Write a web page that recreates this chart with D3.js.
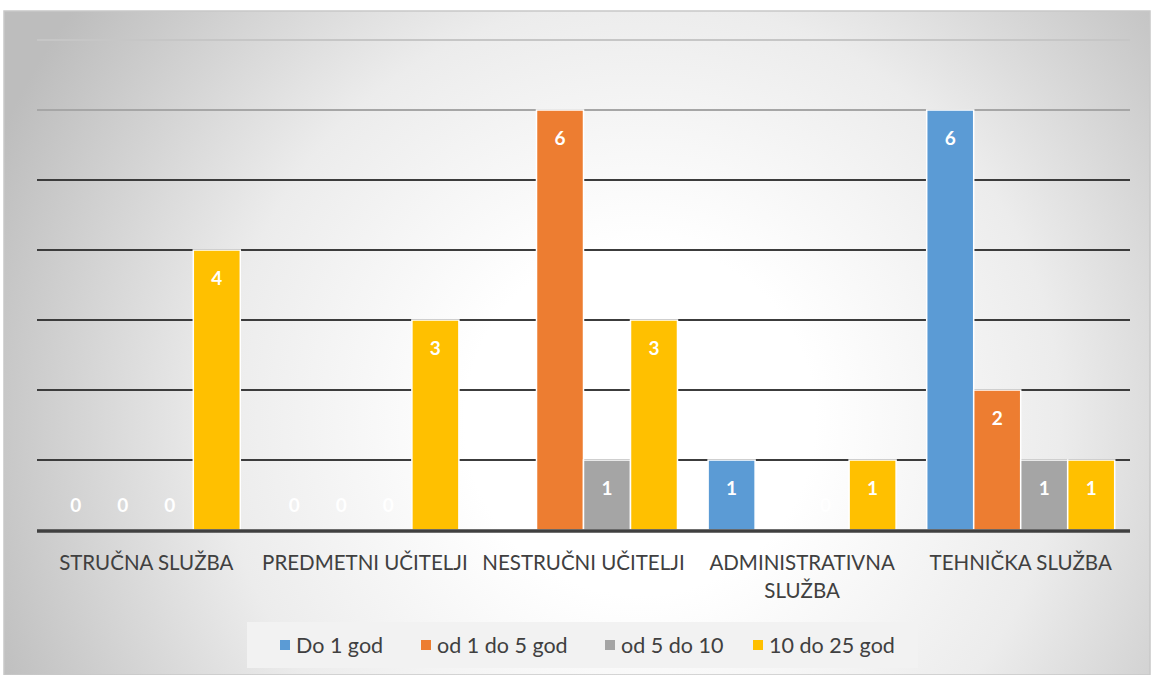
<!DOCTYPE html>
<html>
<head>
<meta charset="utf-8">
<script src="https://cdn.jsdelivr.net/npm/d3@7"></script>
<style>
  body { margin: 0; background: #fff; }
  svg { display: block; font-family: Lato, "Open Sans", sans-serif; }
</style>
</head>
<body>
<div id="root"></div>
<script>
// categories and series
var categories = ["STRUČNA SLUŽBA", "PREDMETNI UČITELJI", "NESTRUČNI UČITELJI", "ADMINISTRATIVNA SLUŽBA", "TEHNIČKA SLUŽBA"];
var seriesNames = ["Do 1 god", "od 1 do 5 god", "od 5 do 10", "10 do 25 god"];
var seriesColors = ["#5b9bd5", "#ed7d31", "#a5a5a5", "#ffc000"];
var doDo1 = [0, 0, 0, 1, 6];
var od1do5 = [0, 0, 6, 0, 2];
var od5do10 = [0, 0, 1, 0, 1];
var od10do25 = [4, 3, 3, 1, 1];
var yTicks = [0, 1, 2, 3, 4, 5, 6, 7];

var values = [doDo1, od1do5, od5do10, od10do25];

var w = 1152, h = 675;
var plot = { left: 37, right: 1130, top: 40, bottom: 530 };

var svg = d3.select("#root").append("svg").attr("width", w).attr("height", h);

// background gradient, whitest just above the baseline
var defs = svg.append("defs");
var grad = defs.append("radialGradient").attr("id", "bg")
  .attr("gradientUnits", "userSpaceOnUse")
  .attr("cx", 640).attr("cy", 420).attr("r", 700);
grad.append("stop").attr("offset", "0%").attr("stop-color", "#ffffff");
grad.append("stop").attr("offset", "25%").attr("stop-color", "#ffffff");
grad.append("stop").attr("offset", "60%").attr("stop-color", "#ececec");
grad.append("stop").attr("offset", "100%").attr("stop-color", "#bdbdbd");

svg.append("rect").attr("x", 4).attr("y", 11).attr("width", 1146).attr("height", 664)
  .attr("fill", "url(#bg)").attr("stroke", "#c8c8c8").attr("stroke-width", 1.5);

var x0 = d3.scaleBand().domain(categories).range([plot.left, plot.right]).paddingInner(0.14).paddingOuter(0.07);
var x1 = d3.scaleBand().domain(seriesNames).range([0, x0.bandwidth()]);
var y = d3.scaleLinear().domain([0, 7]).range([plot.bottom, plot.top]);

// gridlines, lighter toward the top
svg.append("g").selectAll("line").data(yTicks.filter(function(d) { return d > 0; })).enter().append("line")
  .attr("x1", plot.left).attr("x2", plot.right)
  .attr("y1", function(d) { return y(d); }).attr("y2", function(d) { return y(d); })
  .attr("stroke", function(d) { return d == 7 ? "#c6c6c6" : d == 6 ? "#a6a6a6" : "#3c3c3c"; })
  .attr("stroke-width", 1.8);

// bars
var groups = svg.append("g").selectAll("g").data(categories).enter().append("g")
  .attr("transform", function(d) { return "translate(" + x0(d) + ",0)"; });

groups.selectAll("rect").data(function(c, ci) {
  return seriesNames.map(function(s, si) { return { s: s, si: si, v: values[si][ci] }; });
}).enter().append("rect")
  .attr("x", function(d) { return x1(d.s); })
  .attr("y", function(d) { return y(d.v); })
  .attr("width", x1.bandwidth())
  .attr("height", function(d) { return y(0) - y(d.v); })
  .attr("fill", function(d) { return seriesColors[d.si]; })
  .attr("stroke", function(d) { return d.v > 0 ? "#ffffff" : "none"; })
  .attr("stroke-width", 1.5);

groups.selectAll("text").data(function(c, ci) {
  return seriesNames.map(function(s, si) { return { s: s, si: si, v: values[si][ci] }; });
}).enter().append("text")
  .attr("x", function(d) { return x1(d.s) + x1.bandwidth() / 2; })
  .attr("y", function(d) { return d.v > 0 ? y(d.v) + 35 : y(0) - 18; })
  .attr("text-anchor", "middle")
  .attr("fill", "#ffffff")
  .style("font-size", "19px").style("font-weight", "bold")
  .text(function(d) { return d.v; });

// baseline
svg.append("line").attr("x1", plot.left).attr("x2", plot.right)
  .attr("y1", y(0) + 1).attr("y2", y(0) + 1)
  .attr("stroke", "#404040").attr("stroke-width", 3.5);

// category labels
var xAxis = svg.append("g");
categories.forEach(function(c) {
  var cx = x0(c) + x0.bandwidth() / 2;
  var lines = c == "ADMINISTRATIVNA SLUŽBA" ? ["ADMINISTRATIVNA", "SLUŽBA"] : [c];
  lines.forEach(function(l, i) {
    xAxis.append("text").attr("x", cx).attr("y", 570 + i * 28)
      .attr("text-anchor", "middle").attr("fill", "#404040")
      .style("font-size", "20.5px").text(l);
  });
});

// legend
var legend = svg.append("g");
legend.append("rect").attr("x", 247).attr("y", 622).attr("width", 671).attr("height", 46).attr("fill", "#f2f2f2");
var legendX = [280, 421, 605, 753];
seriesNames.forEach(function(s, i) {
  legend.append("rect").attr("x", legendX[i]).attr("y", 640).attr("width", 10).attr("height", 10)
    .attr("fill", seriesColors[i]);
  legend.append("text").attr("x", legendX[i] + 16).attr("y", 653)
    .attr("fill", "#404040").style("font-size", "21.5px").text(s);
});
</script>
</body>
</html>
